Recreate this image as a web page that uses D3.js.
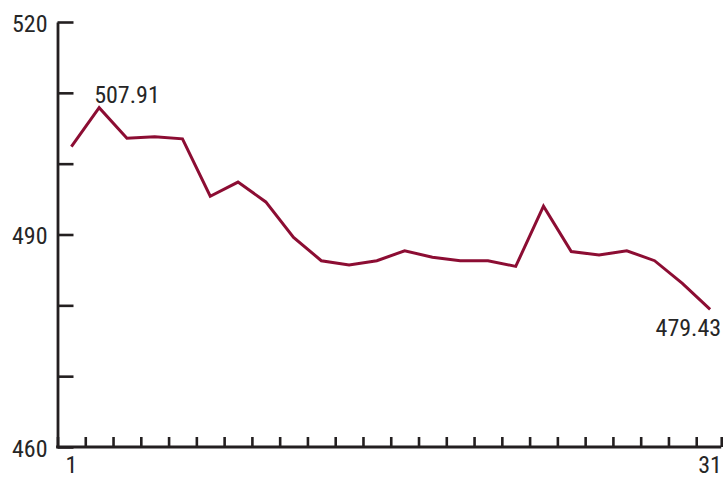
<!DOCTYPE html>
<html>
<head>
<meta charset="utf-8">
<script src="https://cdn.jsdelivr.net/npm/d3@7"></script>
<style>
  html, body { margin: 0; padding: 0; background: #fff; }
  svg { display: block; }
  text { font-family: "Roboto Condensed", "Roboto", "Liberation Sans", sans-serif; }
</style>
</head>
<body>
<svg id="chart" width="727" height="477"></svg>
<script>
// Data (trading sessions of one month, first = day 1, last = day 31)
const sessions = d3.range(1, 25);
const values = [502.4, 507.91, 503.6, 503.8, 503.5, 495.4, 497.4, 494.6, 489.6, 486.3,
                485.7, 486.3, 487.7, 486.8, 486.3, 486.3, 485.5, 494.0, 487.6, 487.1,
                487.7, 486.3, 483.1, 479.43];
const yTicks = [460, 470, 480, 490, 500, 510, 520];
const yTickLabels = ["460", "490", "520"];
const xTickLabels = ["1", "31"];
const annotations = [
  { index: 1, text: "507.91" },
  { index: 23, text: "479.43" }
];

const svg = d3.select("#chart");
const axisColor = "#231f20";
const textColor = "#262626";
const lineColor = "#8c0d33";
const fontSize = 24;

const x = d3.scaleLinear().domain([0, sessions.length]).range([57.5, 724]);
const y = d3.scaleLinear().domain([460, 520]).range([447, 22]);
const px = i => x(i + 0.5);

function label(parent, tx, ty, str, anchor) {
  return parent.append("text")
    .attr("x", tx)
    .attr("y", ty)
    .attr("text-anchor", anchor || "start")
    .attr("font-size", fontSize)
    .attr("fill", textColor)
    .text(str);
}

// Y axis
const yAxis = d3.axisLeft(y)
  .tickValues(yTicks)
  .tickSizeInner(-16)
  .tickSizeOuter(0)
  .tickPadding(10)
  .tickFormat(d => yTickLabels.includes(String(d)) ? String(d) : "");
const gy = svg.append("g").attr("transform", `translate(${x(0)},0)`).call(yAxis);
gy.select(".domain").attr("stroke", axisColor).attr("stroke-width", 2.8);
gy.selectAll(".tick line").attr("stroke", axisColor).attr("stroke-width", 2.6);
gy.selectAll(".tick text")
  .attr("fill", textColor)
  .attr("font-size", fontSize)
  .attr("x", -10)
  .attr("dy", "0.38em");

// X axis
const xAxis = d3.axisBottom(x)
  .tickValues(d3.range(0, sessions.length).concat([sessions.length - 0.1]))
  .tickSizeInner(-10)
  .tickSizeOuter(0)
  .tickFormat("");
const gx = svg.append("g").attr("transform", `translate(0,${y(460)})`).call(xAxis);
gx.select(".domain").attr("stroke", axisColor).attr("stroke-width", 2.8)
  .attr("d", `M${x(0) - 1.4},0H${x(sessions.length - 0.1)}`);
gx.selectAll(".tick line").attr("stroke", axisColor).attr("stroke-width", 2.6);

// X labels at first and last session
const gxl = svg.append("g");
label(gxl, px(0), 472.5, xTickLabels[0], "middle");
label(gxl, px(sessions.length - 1), 472.5, xTickLabels[1], "middle");

// Line
const line = d3.line()
  .x((d, i) => px(i))
  .y(d => y(d));
svg.append("path")
  .datum(values)
  .attr("fill", "none")
  .attr("stroke", lineColor)
  .attr("stroke-width", 3)
  .attr("stroke-linejoin", "miter")
  .attr("d", line);

// Annotations
const a0 = annotations[0], a1 = annotations[1];
label(svg, px(a0.index) - 5, y(values[a0.index]) - 5, a0.text, "start");
label(svg, px(a1.index) + 11, y(values[a1.index]) + 27, a1.text, "end");
</script>
</body>
</html>
